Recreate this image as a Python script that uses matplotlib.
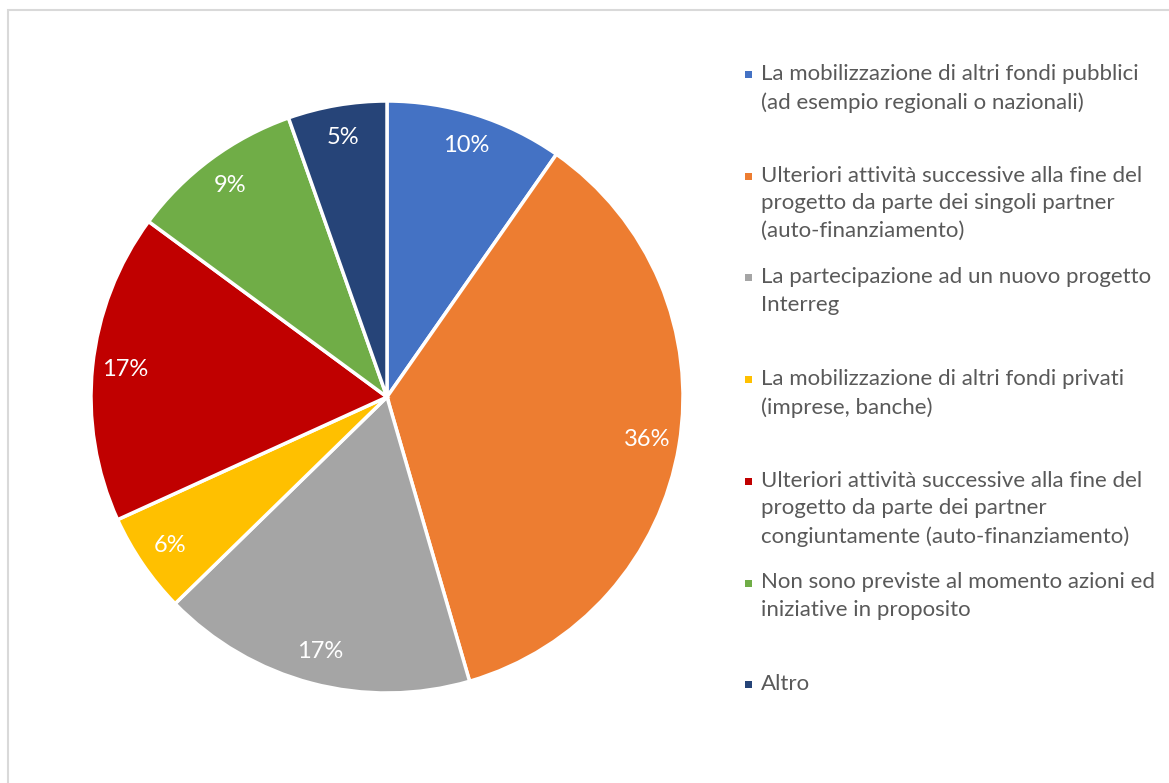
import matplotlib.pyplot as plt
from matplotlib.patches import Rectangle

# data (shares in %)
categories = [
    "La mobilizzazione di altri fondi pubblici\n(ad esempio regionali o nazionali)",
    "Ulteriori attività successive alla fine del\nprogetto da parte dei singoli partner\n(auto-finanziamento)",
    "La partecipazione ad un nuovo progetto\nInterreg",
    "La mobilizzazione di altri fondi privati\n(imprese, banche)",
    "Ulteriori attività successive alla fine del\nprogetto da parte dei partner\ncongiuntamente (auto-finanziamento)",
    "Non sono previste al momento azioni ed\niniziative in proposito",
    "Altro",
]
shares = [9.7, 35.8, 17.2, 5.5, 16.9, 9.5, 5.4]
pct_labels = ["10%", "36%", "17%", "6%", "17%", "9%", "5%"]
colors = ["#4472C4", "#ED7D31", "#A5A5A5", "#FFC000", "#C00000", "#70AD47", "#264478"]

plt.rcParams['font.family'] = ['Lato', 'DejaVu Sans']

W, H = 1169, 783
fig = plt.figure(figsize=(W / 100, H / 100), dpi=100)

# light grey chart frame (right/bottom edges are cut off)
fig.patches.append(Rectangle((8 / W, -0.1), 1.2, 1 - 10 / H + 0.1, transform=fig.transFigure,
                             fill=False, edgecolor="#D9D9D9", linewidth=1.5))

cx, cy, r = 387, 397, 296
ax = fig.add_axes([(cx - r) / W, (H - cy - r) / H, 2 * r / W, 2 * r / H])
wedges, texts = ax.pie(shares, colors=colors, startangle=90, counterclock=False,
                       labels=pct_labels, labeldistance=0.89,
                       wedgeprops=dict(edgecolor="white", linewidth=2.5))
for t in texts:
    t.set_color("white")
    t.set_fontsize(17)
    t.set_ha("center")
    t.set_va("center")
ax.set_xlim(-1, 1)
ax.set_ylim(-1, 1)
ax.axis("off")

# legend: one equal slot per entry, text top-aligned
y0, step = 74, 101.7
for i, (lab, col) in enumerate(zip(categories, colors)):
    y = y0 + i * step
    fig.patches.append(Rectangle((745 / W, (H - y - 4) / H), 7 / W, 7 / H,
                                 transform=fig.transFigure, facecolor=col, edgecolor="none"))
    fig.text(761 / W, (H - y + 10) / H, lab, fontsize=16, color="#595959",
             va="top", ha="left", linespacing=1.48)

fig.savefig("out.png", dpi=100)
